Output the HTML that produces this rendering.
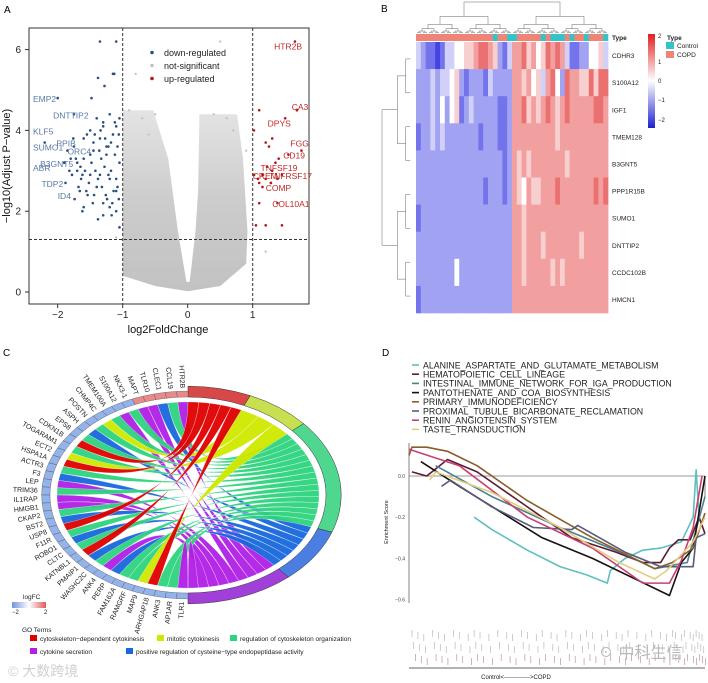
<!DOCTYPE html>
<html><head><meta charset="utf-8">
<style>
html,body{margin:0;padding:0;background:#fff;}
svg{display:block;font-family:"Liberation Sans","Noto Sans CJK SC",sans-serif;}
</style></head>
<body>
<svg id="fig" width="708" height="683" viewBox="0 0 708 683" xmlns="http://www.w3.org/2000/svg">
<rect width="708" height="683" fill="#fff"/>
<text x="4" y="13" font-size="10">A</text>
<text x="381" y="12" font-size="10">B</text>
<text x="3" y="356" font-size="10">C</text>
<text x="382" y="356" font-size="10">D</text>
<g id="pa"></g>
<g id="pb"></g>
<g id="pc"></g>
<g id="pd"></g>
<text x="598" y="658" font-size="16" fill="#b8b8b8">☉ 中科生信</text>
<text x="8" y="676" font-size="14" fill="#d0d0d0">© 大数跨境</text>
</svg>
<script>
// ===== Panel A data =====
const downX=[-1.05,-1.1,-1.15,-1.2,-1.25,-1.3,-1.35,-1.4,-1.45,-1.5,-1.55,-1.6,-1.65,-1.7,-1.75,-1.8,-1.85,-1.9,-1.05,-1.12,-1.18,-1.22,-1.28,-1.33,-1.38,-1.42,-1.48,-1.52,-1.58,-1.62,-1.68,-1.72,-1.78,-1.82,-1.88,-1.08,-1.14,-1.2,-1.26,-1.32,-1.36,-1.44,-1.5,-1.56,-1.64,-1.7,-1.76,-1.06,-1.1,-1.16,-1.24,-1.3,-1.4,-1.46,-1.54,-1.6,-1.66,-1.74,-1.08,-1.18,-1.27,-1.34,-1.43,-1.5,-1.6,-1.1,-1.2,-1.3,-1.38,-1.06,-1.12,-1.22,-1.3,-1.1,-1.17,-1.35,-1.05,-1.25,-1.45,-1.62,-1.15,-1.28,-1.1,-1.35,-1.13,-1.38,-1.48,-2.0,-2.2,-1.75];
const downY=[4.3,4.1,3.9,4.4,3.6,4.2,3.8,4.3,3.5,3.4,3.9,3.3,3.1,3.0,3.6,3.3,3.5,3.2,3.2,3.4,3.7,2.9,3.1,3.3,2.8,3.0,3.2,2.7,3.0,2.9,2.6,3.3,2.9,3.0,2.7,2.6,2.5,2.8,2.4,2.6,3.5,2.4,2.9,2.5,2.8,3.2,3.8,2.3,2.0,2.2,2.3,1.9,2.6,2.2,2.4,2.1,2.5,2.3,3.6,3.0,3.8,4.0,3.9,4.0,3.8,2.8,2.1,2.2,1.8,3.9,4.2,3.6,4.1,2.5,1.9,2.9,1.6,3.4,3.7,2.0,5.4,5.1,6.2,6.2,5.4,5.3,4.8,4.8,3.7,4.4];
const upX=[1.65,1.68,1.5,1.02,1.1,1.3,1.25,1.2,1.75,1.55,1.4,1.35,1.3,1.45,1.2,1.15,1.28,1.22,1.38,1.1,1.02,1.15,1.08,1.28,1.02,1.38,1.1,1.05,1.2,1.45];
const upY=[6.2,4.5,4.3,4.0,4.5,3.8,3.6,3.7,3.5,3.4,3.3,3.2,3.0,2.9,2.8,2.9,2.7,3.1,2.8,2.7,2.9,2.6,2.8,2.7,2.9,2.2,2.2,1.65,1.65,1.65];
const greyX=[0.5,-0.8,-0.9,-0.7,0.7,0.9,-0.6,0.4,-0.5,0.6,1.2,-1.1];
const greyY=[6.2,5.4,4.5,4.3,4.0,3.5,3.9,4.4,4.4,4.3,1.0,1.35];
const downLabels=["EMP2","DNTTIP2","KLF5","PPIB","SUMO1","B3GNT5","ORC4","ABR","TDP2","ID4"];
const downLabX=[-2.38,-2.07,-2.38,-2.02,-2.38,-2.27,-1.85,-2.38,-2.25,-2.0];
const downLabY=[4.7,4.3,3.9,3.6,3.5,3.1,3.4,3.0,2.6,2.3];
const upLabels=["HTR2B","CA3","DPYS","FGG","CD19","TNFSF19","TNFRSF17","CREM","COMP","COL10A1"];
const upLabX=[1.33,1.6,1.23,1.58,1.47,1.12,1.25,1.0,1.2,1.3];
const upLabY=[6.0,4.5,4.1,3.6,3.3,3.0,2.8,2.8,2.5,2.1];
const xTicksA=[-2,-1,0,1];
const yTicksA=[0,2,4,6];

// ===== Panel B data =====
const geneRows=["CDHR3","S100A12","IGF1","TMEM128","B3GNT5","PPP1R15B","SUMO1","DNTTIP2","CCDC102B","HMCN1"];
const heatRows=[
"3211013344556776521366756457676311224453",
"2223233452122213222266564536742766557577",
"2223242451232222211266756567656766666776",
"1223232222222122211266666666656666666666",
"2222222222222222221265656666666566666666",
"2222222222222212221265465566676666666767",
"1222222222222222222266566666666666666666",
"2222222222222222222266566656666666566666",
"2222222242222222222266566666565666666666",
"1222222222222222222266666666666666666666"];
const typeRow="cccccccccccccccctccttccccctctttctcctccct";

// ===== Panel C data =====
const genes=["HTR2B","CCL19","CLEC1","TLR10","MAPT","NKX3-1","S100A12","TMEM100A","CHMP4C","POSTN","ASPH","EPS8","CDKN1B","TOGARAM1","ECT2","HSPA1A","ACTR3","F3","LEP","TRIM36","IL1RAP","HMGB1","CKAP2","BST2","USP8","F11R","ROBO1","CLTC","KATNBL1","PMAIP1","WASHC2C","ANK4","PERP","FAM162A","RAMGRF","MAP9","ARHGAP18","ANK3","AP1AR","TLR1"];
const logFC=[1.8,1.5,1.4,1.2,1.1,-1.2,-1.3,-1.2,-1.1,-1.4,-1.3,-1.2,-1.5,-1.3,-1.2,-1.4,-1.3,-1.2,-1.1,-1.3,-1.2,-1.4,-1.3,-1.2,-1.3,-1.1,-1.2,-1.4,-1.3,-1.2,-1.1,-1.3,-1.2,-1.4,-1.3,-1.2,-1.1,-1.3,-1.2,-1.4];
const geneTerm=[4,2,3,4,4,2,4,2,1,2,3,2,0,2,1,0,2,3,4,2,4,4,2,3,0,2,3,2,0,3,2,4,3,2,2,1,0,2,2,4];
const termNames=["cytoskeleton−dependent cytokinesis","mitotic cytokinesis","regulation of cytoskeleton organization","positive regulation of cysteine−type endopeptidase activity","cytokine secretion"];
const termSizes=[24,25,61,29,41];

// ===== Panel D data =====
const setNames=["ALANINE_ASPARTATE_AND_GLUTAMATE_METABOLISM","HEMATOPOIETIC_CELL_LINEAGE","INTESTINAL_IMMUNE_NETWORK_FOR_IGA_PRODUCTION","PANTOTHENATE_AND_COA_BIOSYNTHESIS","PRIMARY_IMMUNODEFICIENCY","PROXIMAL_TUBULE_BICARBONATE_RECLAMATION","RENIN_ANGIOTENSIN_SYSTEM","TASTE_TRANSDUCTION"];
const rankAlanine=[0.22,0.28,0.4,0.51,0.6,0.67,0.68,0.73,0.79,0.85,0.92,0.96,0.97,0.98];
const esAlanine=[-0.2,-0.26,-0.36,-0.44,-0.48,-0.52,-0.46,-0.4,-0.36,-0.35,-0.32,-0.2,0.03,-0.2];
const rankHemato=[0.01,0.06,0.13,0.23,0.4,0.55,0.7,0.79,0.85,0.88,0.91,0.95,0.98,1.0];
const esHemato=[0.02,0.0,0.08,0.02,-0.15,-0.3,-0.37,-0.42,-0.42,-0.35,-0.31,-0.31,-0.2,-0.28];
const rankIntest=[0.09,0.28,0.51,0.73,0.83,0.94,1.0];
const esIntest=[0.05,-0.1,-0.25,-0.38,-0.45,-0.42,-0.1];
const rankPanto=[0.04,0.17,0.45,0.62,0.88,0.92,0.96,1.0];
const esPanto=[0.07,-0.05,-0.3,-0.4,-0.58,-0.42,-0.35,0.0];
const rankPrimary=[0.0,0.01,0.06,0.13,0.23,0.4,0.62,0.83,0.89,0.96,1.0];
const esPrimary=[0.1,0.14,0.14,0.12,0.05,-0.12,-0.3,-0.45,-0.42,-0.35,-0.18];
const rankProx=[0.11,0.14,0.28,0.42,0.55,0.57,0.73,0.85,0.92,0.96,0.97,1.0];
const esProx=[-0.05,-0.02,-0.15,-0.25,-0.26,-0.24,-0.37,-0.44,-0.44,-0.44,-0.3,-0.28];
const rankRenin=[0.0,0.17,0.4,0.62,0.79,0.88,0.92,0.96,0.99];
const esRenin=[0.13,0.05,-0.2,-0.35,-0.52,-0.52,-0.41,-0.25,0.0];
const rankTaste=[0.07,0.09,0.28,0.51,0.71,0.83,0.87,0.96,1.0];
const esTaste=[-0.02,0.02,-0.08,-0.25,-0.42,-0.5,-0.46,-0.32,-0.2];
const yTicksD=[0.0,-0.2,-0.4,-0.6];
const rugPos=[0.01,0.03,0.05,0.08,0.1,0.12,0.15,0.17,0.2,0.22,0.24,0.27,0.3,0.33,0.35,0.38,0.4,0.43,0.45,0.48,0.5,0.53,0.55,0.58,0.6,0.62,0.65,0.67,0.7,0.72,0.74,0.77,0.8,0.82,0.85,0.87,0.89,0.9,0.92,0.93,0.95,0.96,0.97,0.98,0.99];

const NS="http://www.w3.org/2000/svg";
function mk(parent,tag,attrs,text){const e=document.createElementNS(NS,tag);for(const k in attrs)e.setAttribute(k,attrs[k]);if(text!==undefined)e.textContent=text;parent.appendChild(e);return e;}

// ===== Panel A =====
(function(){
const g=document.getElementById('pa');
const X=v=>187.7+65*v, Y=v=>292-40.4*v;
const f=mk(g,'rect',{x:29,y:28,width:280,height:276,fill:'none',stroke:'#333','stroke-width':1});

const cg=mk(g,'linearGradient',{id:'cg',x1:0,y1:0,x2:0,y2:1});
[['0','#e4e4e4'],['0.5','#cccccc'],['1','#c2c2c2']].forEach(s=>mk(cg,'stop',{offset:s[0],'stop-color':s[1]}));
const cloud=[[-1,4.5],[-0.53,4.5],[-0.3,3.3],[-0.15,1.5],[-0.02,0.25],[0.03,0.25],[0.12,1.5],[0.16,2.5],[0.18,4.4],[0.76,4.4],[0.85,3.3],[0.92,1.5],[0.9,0.7],[0.5,0.15],[0,0.02],[-0.5,0.15],[-1,0.4]];
const c=mk(g,'path',{d:'M'+cloud.map(p=>X(p[0])+','+Y(p[1])).join('L')+'Z',fill:'url(#cg)'});

greyX.forEach((x,i)=>{const p=mk(g,'circle',{cx:X(x),cy:Y(greyY[i]),r:1.1,fill:'#c0c0c0'});
});
downX.forEach((x,i)=>{const p=mk(g,'circle',{cx:X(x),cy:Y(downY[i]),r:1.3,fill:'#2a4f80'});
});
upX.forEach((x,i)=>{const p=mk(g,'circle',{cx:X(x),cy:Y(upY[i]),r:1.3,fill:'#b01818'});
});
[-1,1].forEach(v=>{const l=mk(g,'line',{x1:X(v),x2:X(v),y1:28,y2:304,stroke:'#333','stroke-dasharray':'3,2'});
});
const h=mk(g,'line',{x1:29,x2:309,y1:Y(1.3),y2:Y(1.3),stroke:'#333','stroke-dasharray':'3,2'});

xTicksA.forEach(v=>{mk(g,'line',{x1:X(v),x2:X(v),y1:304,y2:308,stroke:'#333'});
const t=mk(g,'text',{x:X(v),y:318,'font-size':10,'text-anchor':'middle',fill:'#222'},v===0?'0':String(v).replace('-','−'));
});
yTicksA.forEach(v=>{mk(g,'line',{x1:25,x2:29,y1:Y(v),y2:Y(v),stroke:'#333'});
const t=mk(g,'text',{x:21,y:Y(v)+3.5,'font-size':10,'text-anchor':'end',fill:'#222'},String(v));
});
const xt=mk(g,'text',{x:168,y:333,'font-size':11,'text-anchor':'middle',fill:'#111'},'log2FoldChange');

const yt=mk(g,'text',{x:0,y:0,'font-size':11,'text-anchor':'middle',fill:'#111',transform:'translate(10,166) rotate(-90)'},'−log10(Adjust P−value)');

const leg=[['down-regulated','#2a4f80'],['not-significant','#c4c4c4'],['up-regulated','#b01818']];
leg.forEach((L,i)=>{const y=53+i*13;mk(g,'circle',{cx:152,cy:y-0.5,r:1.8,fill:L[1]});
const t=mk(g,'text',{x:164,y:y+3,'font-size':9,fill:'#222'},L[0]);
});
downLabels.forEach((s,i)=>{const t=mk(g,'text',{x:X(downLabX[i]),y:Y(downLabY[i]),'font-size':8.5,fill:'#5a7aa8'},s);
});
upLabels.forEach((s,i)=>{const t=mk(g,'text',{x:X(upLabX[i]),y:Y(upLabY[i]),'font-size':8.5,fill:'#c02828'},s);
});
})();

// ===== Panel B =====
(function(){
const g=document.getElementById('pb');
const x0=416,x1=608,y0=42,y1=313;
const rh=(y1-y0)/heatRows.length;
function col(v){const t=Math.min(1,Math.abs(v)/2.3);
if(v<0)return `rgb(${Math.round(255-t*215)},${Math.round(255-t*215)},${Math.round(255-t*30)})`;
return `rgb(${Math.round(255-t*30)},${Math.round(255-t*220)},${Math.round(255-t*220)})`;}
heatRows.forEach((row,r)=>{const n=row.length,cw=(x1-x0)/n;
for(let c=0;c<n;c++){const v=(parseInt(row[c])-4)/2;
const e=mk(g,'rect',{x:x0+c*cw,y:y0+r*rh,width:cw+0.4,height:rh+0.3,fill:col(v)});
}
const t=mk(g,'text',{x:612,y:y0+r*rh+rh/2+2.5,'font-size':6.5,fill:'#222'},geneRows[r]);
});
const n=typeRow.length,cw=(x1-x0)/n;
for(let c=0;c<n;c++){const e=mk(g,'rect',{x:x0+c*cw,y:34,width:cw+0.3,height:7,fill:typeRow[c]==='t'?'#32c4c8':'#f08476'});
}
mk(g,'text',{x:612,y:40,'font-size':6.5,'font-weight':'bold',fill:'#222'},'Type');
function tree(a,b,top,bot,depth,horiz,minSpan){ if(depth>5||b-a<minSpan)return (a+b)/2;
const m=(a+b)/2;const ch=top+(bot-top)*0.45;
const l=tree(a,m,ch,bot,depth+1,horiz,minSpan),r=tree(m,b,ch,bot,depth+1,horiz,minSpan);
if(!horiz){mk(g,'path',{d:`M${l},${ch}V${top}H${r}V${ch}`,fill:'none',stroke:'#666','stroke-width':0.5});}
else{mk(g,'path',{d:`M${ch},${l}H${top}V${r}H${ch}`,fill:'none',stroke:'#666','stroke-width':0.5});}
return (l+r)/2;}
tree(x0,x1,2,34,0,false,3);
tree(y0,y1,382,416,0,true,rh*1.5);
const gr=mk(g,'linearGradient',{id:'hg',x1:0,y1:1,x2:0,y2:0});
[['0','#2020d0'],['0.5','#ffffff'],['1','#e02020']].forEach(s=>mk(gr,'stop',{offset:s[0],'stop-color':s[1]}));
const cb=mk(g,'rect',{x:648,y:34,width:7,height:94,fill:'url(#hg)'});

[[2,36],[1,62],[0,81],[-1,100],[-2,120]].forEach(p=>mk(g,'text',{x:658,y:p[1]+2,'font-size':6,fill:'#222'},String(p[0]).replace('-','−')));
mk(g,'text',{x:667,y:40,'font-size':6.5,'font-weight':'bold',fill:'#222'},'Type');
mk(g,'rect',{x:666,y:42,width:8,height:7,fill:'#32c4c8'});
mk(g,'rect',{x:666,y:51,width:8,height:7,fill:'#f08476'});
const a1=mk(g,'text',{x:677,y:48,'font-size':6.5,fill:'#222'},'Control');
const a2=mk(g,'text',{x:677,y:57,'font-size':6.5,fill:'#222'},'COPD');
})();

// ===== Panel C =====
(function(){
const g=document.getElementById('pc');
const cx=188,cy=495,rx=138,ry=98;
const P=(a,r)=>{const t=a*Math.PI/180;return [cx+rx*r*Math.sin(t),cy-ry*r*Math.cos(t)];};
const ribC=['#e00000','#d0e800','#2ed47e','#1868dc','#b020e6'];
const ringC=['#d84848','#c8e050','#4fd68f','#4a7ee0','#a040d8'];
function arcPath(a0,a1,r0,r1){const s=a1-a0,lg=Math.abs(s)>180?1:0,sw=s>0?1:0;
const p0=P(a0,r1),p1=P(a1,r1),p2=P(a1,r0),p3=P(a0,r0);
return `M${p0}A${rx*r1},${ry*r1} 0 ${lg} ${sw} ${p1}L${p2}A${rx*r0},${ry*r0} 0 ${lg} ${1-sw} ${p3}Z`;}
const total=termSizes.reduce((a,b)=>a+b,0);
const tStart=[];let acc=0;
termSizes.forEach((s,i)=>{tStart.push(acc);acc+=s*180/total;});
const cnt=termSizes.map(()=>0),used=termSizes.map(()=>0);
geneTerm.forEach(t=>cnt[t]++);
const gw=180/genes.length;
genes.forEach((name,i)=>{
const a0=360-i*gw,a1=360-(i+1)*gw;const t=geneTerm[i];
const tw=termSizes[t]*180/total/cnt[t];
const b0=tStart[t]+used[t]*tw,b1=b0+tw;used[t]++;
const r=0.95;const p0=P(a0,r),p1=P(a1,r),q0=P(b0,r),q1=P(b1,r);
const d=`M${p0}A${rx*r},${ry*r} 0 0 0 ${p1}Q${cx},${cy} ${q0}A${rx*r},${ry*r} 0 0 1 ${q1}Q${cx},${cy} ${p0}Z`;
const e=mk(g,'path',{d:d,fill:ribC[t],stroke:'#fff','stroke-width':0.3,opacity:0.95});
});
termSizes.forEach((s,i)=>{const e=mk(g,'path',{d:arcPath(tStart[i],tStart[i]+s*180/total,1.0,1.11),fill:ringC[i],stroke:'#333','stroke-width':0.5});
});
genes.forEach((name,i)=>{const a0=360-i*gw,a1=360-(i+1)*gw;
const v=logFC[i];const col=v>0?'#e88a8a':'#93b3ea';
const e=mk(g,'path',{d:arcPath(a1,a0,1.0,1.06),fill:col,stroke:'#555','stroke-width':0.4});

const am=(a0+a1)/2;const p=P(am,1.09);const th=am-90;
const t=mk(g,'text',{x:p[0],y:p[1],'font-size':7,'text-anchor':'end',fill:'#222',transform:`rotate(${th+180},${p[0]},${p[1]})`,'dominant-baseline':'middle'},name);
});
const lg=mk(g,'linearGradient',{id:'lfc',x1:0,y1:0,x2:1,y2:0});
[['0','#6f93e0'],['0.5','#ffffff'],['1','#e05a5a']].forEach(s=>mk(lg,'stop',{offset:s[0],'stop-color':s[1]}));
mk(g,'text',{x:23,y:599,'font-size':6.5,fill:'#222'},'logFC');
const lb=mk(g,'rect',{x:12,y:602,width:34,height:6,fill:'url(#lfc)'});
mk(g,'text',{x:12,y:614,'font-size':6,fill:'#222'},'−2');mk(g,'text',{x:44,y:614,'font-size':6,fill:'#222'},'2');
mk(g,'text',{x:22,y:632,'font-size':6.5,fill:'#222'},'GO Terms');
const pos=[[30,641],[157,641],[230,641],[126,654],[30,654]];
termNames.forEach((n,i)=>{mk(g,'rect',{x:pos[i][0],y:pos[i][1]-6,width:7,height:6,fill:ribC[i]});
const t=mk(g,'text',{x:pos[i][0]+10,y:pos[i][1],'font-size':6.5,fill:'#222'},n);
});
})();

// ===== Panel D =====
(function(){
const g=document.getElementById('pd');
const x0=409,x1=705;const X=f=>x0+(x1-x0)*f,Y=v=>476-206*v;
const cols=['#5fbfbf','#5c1c34','#4a8090','#1a1010','#8a5c2c','#5a5a7a','#c84070','#e6cc80'];
const ranks=[rankAlanine,rankHemato,rankIntest,rankPanto,rankPrimary,rankProx,rankRenin,rankTaste];
const ess=[esAlanine,esHemato,esIntest,esPanto,esPrimary,esProx,esRenin,esTaste];
setNames.forEach((n,i)=>{const y=365+i*9.2;mk(g,'line',{x1:412,x2:419,y1:y,y2:y,stroke:cols[i],'stroke-width':1.6});
const t=mk(g,'text',{x:423,y:y+3.3,'font-size':8.8,fill:'#222'},n);
});
mk(g,'line',{x1:x0,x2:x0,y1:443,y2:603,stroke:'#333','stroke-width':0.6});
const z=mk(g,'line',{x1:x0,x2:x1,y1:Y(0),y2:Y(0),stroke:'#333','stroke-width':0.6});

mk(g,'line',{x1:x1,x2:x1,y1:Y(0),y2:Y(-0.1),stroke:'#333','stroke-width':0.6});
yTicksD.forEach(v=>{const t=mk(g,'text',{x:405,y:Y(v)+2,'font-size':5,'text-anchor':'end',fill:'#444'},v.toFixed(1).replace('-','−'));
});
const yt=mk(g,'text',{x:0,y:0,'font-size':5.5,'text-anchor':'middle',fill:'#222',transform:'translate(388,522) rotate(-90)'},'Enrichment Score');

ranks.forEach((r,i)=>{const d=r.map((f,j)=>(j?'L':'M')+X(f)+','+Y(ess[i][j])).join('');
const p=mk(g,'path',{d:d,fill:'none',stroke:cols[i],'stroke-width':1.6,'stroke-linejoin':'round'});
});
rugPos.forEach((f,i)=>{for(let k=0;k<3;k++){const y=630+k*12+(i%3)*2;
const l=mk(g,'line',{x1:X(f)+k*1.7,x2:X(f)+k*1.7,y1:y,y2:y+7,stroke:k===2?'#c090a0':'#b8b8b8','stroke-width':0.7});
}});
mk(g,'line',{x1:x0,x2:x1,y1:668,y2:668,stroke:'#333','stroke-width':0.7});
const xl=mk(g,'text',{x:516,y:679,'font-size':6,'text-anchor':'middle',fill:'#222'},'Control<------------->COPD');

})();
</script>
</body></html>
